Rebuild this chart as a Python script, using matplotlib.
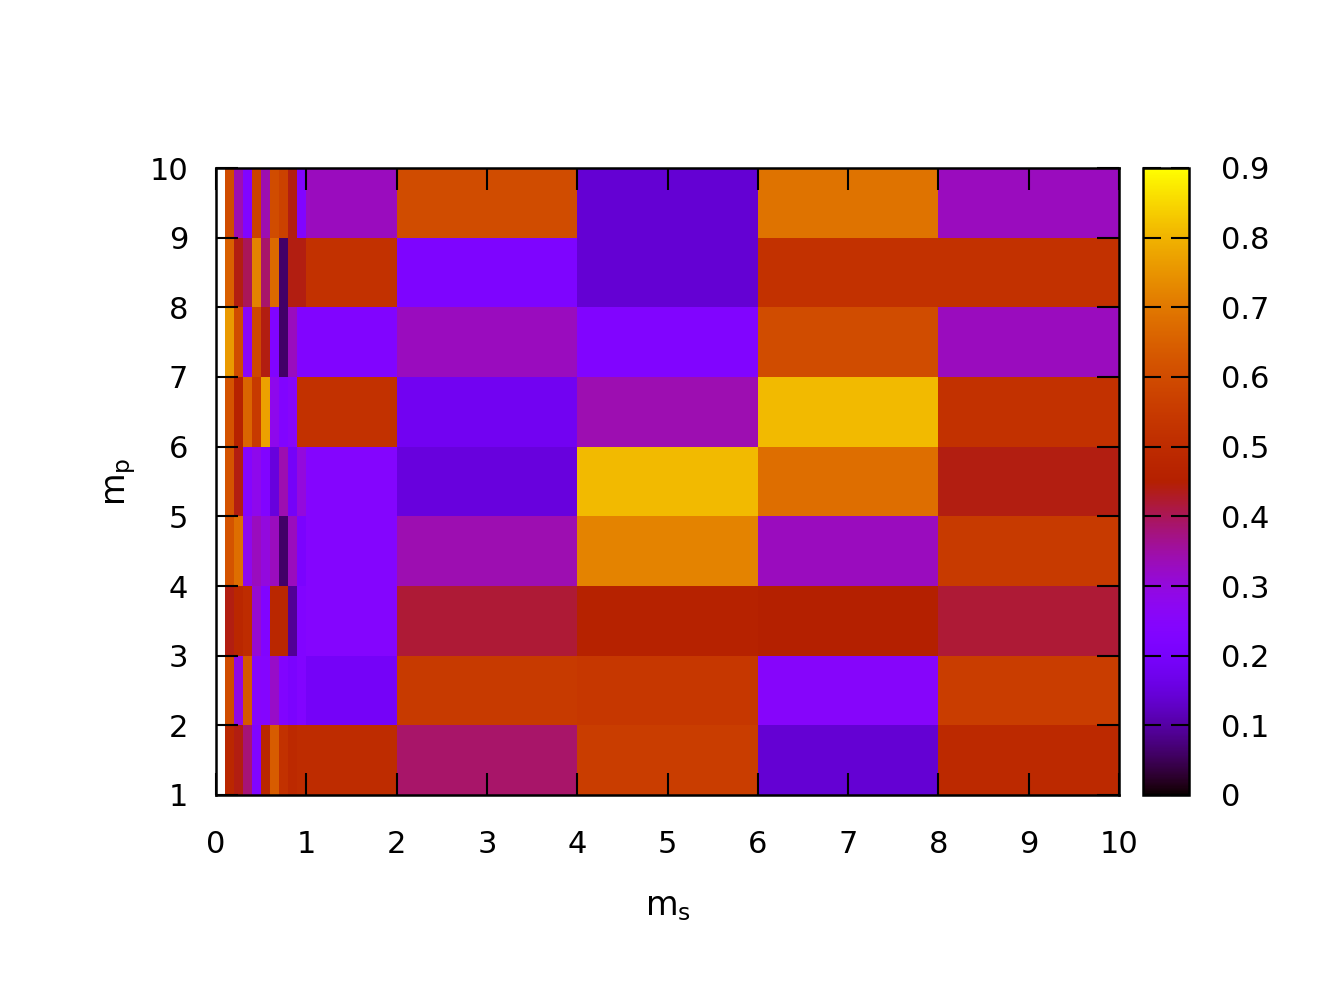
import numpy as np
import matplotlib
matplotlib.use("Agg")
import matplotlib.pyplot as plt
from matplotlib.colors import ListedColormap

# ---- data ----
x_edges = [0.1, 0.2, 0.3, 0.4, 0.5, 0.6, 0.7, 0.8, 0.9, 1.0, 2, 4, 6, 8, 10]
y_edges = [1, 2, 3, 4, 5, 6, 7, 8, 9, 10]

row_1_2 = [0.48, 0.44, 0.38, 0.23, 0.48, 0.64, 0.52, 0.49, 0.50, 0.50, 0.39, 0.56, 0.14, 0.49]
row_2_3 = [0.60, 0.29, 0.63, 0.25, 0.24, 0.32, 0.23, 0.21, 0.23, 0.19, 0.55, 0.54, 0.25, 0.56]
row_3_4 = [0.44, 0.48, 0.50, 0.31, 0.23, 0.48, 0.48, 0.09, 0.23, 0.24, 0.42, 0.46, 0.45, 0.42]
row_4_5 = [0.62, 0.68, 0.28, 0.33, 0.30, 0.33, 0.06, 0.33, 0.21, 0.24, 0.34, 0.72, 0.33, 0.55]
row_5_6 = [0.62, 0.44, 0.24, 0.28, 0.23, 0.15, 0.34, 0.19, 0.30, 0.24, 0.15, 0.81, 0.68, 0.44]
row_6_7 = [0.62, 0.46, 0.66, 0.55, 0.77, 0.28, 0.23, 0.25, 0.52, 0.52, 0.18, 0.34, 0.81, 0.52]
row_7_8 = [0.76, 0.60, 0.26, 0.59, 0.44, 0.23, 0.06, 0.33, 0.23, 0.23, 0.33, 0.23, 0.60, 0.33]
row_8_9 = [0.65, 0.44, 0.40, 0.72, 0.39, 0.67, 0.06, 0.44, 0.44, 0.52, 0.22, 0.14, 0.52, 0.52]
row_9_10 = [0.60, 0.34, 0.23, 0.57, 0.34, 0.60, 0.57, 0.44, 0.23, 0.33, 0.60, 0.14, 0.69, 0.33]

x_ticks = list(range(0, 11))
y_ticks = list(range(1, 11))
cb_ticks = [0, 0.1, 0.2, 0.3, 0.4, 0.5, 0.6, 0.7, 0.8, 0.9]
cb_labels = ["0", "0.1", "0.2", "0.3", "0.4", "0.5", "0.6", "0.7", "0.8", "0.9"]

# ---- gnuplot default palette (rgbformulae 7,5,15) ----
t = np.linspace(0, 1, 512)
r = np.sqrt(t)
g = t ** 3
b = np.clip(np.sin(2 * np.pi * t), 0, 1)
cmap = ListedColormap(np.column_stack([r, g, b]))

Z = np.array([row_1_2, row_2_3, row_3_4, row_4_5, row_5_6,
              row_6_7, row_7_8, row_8_9, row_9_10])

plt.rcParams['font.family'] = ['DejaVu Sans']
fs = 22

fig = plt.figure(figsize=(13.34, 10), dpi=100)
W, H = 1334, 1000
ax = fig.add_axes([216 / W, 1 - 795 / H, (1119 - 216) / W, (795 - 168) / H])
mesh = ax.pcolormesh(x_edges, y_edges, Z, cmap=cmap, vmin=0, vmax=0.9,
                     shading='flat', edgecolors='none', antialiased=False)
ax.set_xlim(0, 10)
ax.set_ylim(1, 10)
ax.set_xticks(x_ticks)
ax.set_yticks(y_ticks)
ax.tick_params(axis='both', which='major', direction='in', length=16, width=1.5,
               top=True, right=True, labelsize=fs, color='black')
ax.tick_params(axis='x', pad=25)
ax.tick_params(axis='y', pad=20)
for s in ax.spines.values():
    s.set_linewidth(1.8)

ax.set_xlabel(r'$\mathregular{m_s}$', fontsize=fs + 2)
ax.xaxis.label.set_va('center')
ax.xaxis.set_label_coords(0.5, (795 - 906) / 627)
ax.set_ylabel(r'$\mathregular{m_p}$', fontsize=fs + 2)
ax.yaxis.label.set_va('center')
ax.yaxis.set_label_coords((121 - 216) / 903, 0.5)

cax = fig.add_axes([1143 / W, 1 - 795 / H, (1189 - 1143) / W, (795 - 168) / H])
cb = fig.colorbar(mesh, cax=cax)
cb.set_ticks(cb_ticks)
cb.set_ticklabels(cb_labels)
cb.outline.set_linewidth(1.8)
cax.tick_params(direction='in', length=13, width=1.5, left=True, right=True,
                labelsize=fs, pad=23)
cax.minorticks_off()

fig.savefig('out.png', dpi=100)
